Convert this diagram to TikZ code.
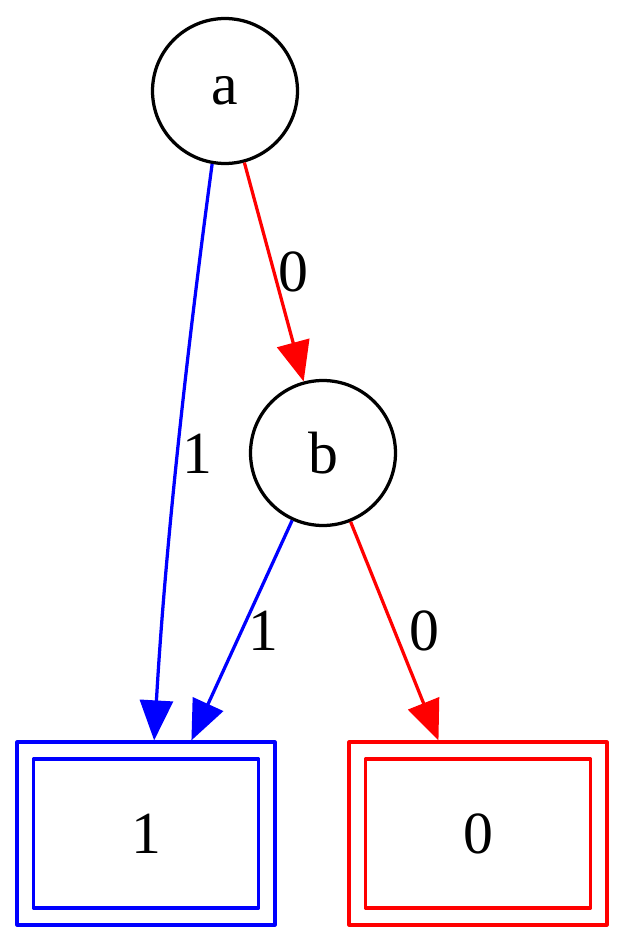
\documentclass[tikz,border=0pt]{standalone}
\usepackage{fontspec}
\setmainfont{Liberation Serif}
\usetikzlibrary{arrows.meta}
\begin{document}
\begin{tikzpicture}[x=0.02cm,y=-0.02cm,line width=0.065cm,line join=round,
		>={Triangle[length=0.8cm,width=0.66cm]},
		font=\fontsize{34}{40}\selectfont,
		vertex/.style={circle,draw,minimum size=2.9cm,inner sep=0pt},
		outerbox/.style={rectangle,draw,minimum width=5.16cm,minimum height=3.66cm},
		innerbox/.style={rectangle,minimum width=4.5cm,minimum height=2.98cm},
		lbl/.style={midway,right,inner sep=0.06cm,text=black}]
			\useasboundingbox (0,0) rectangle (625,942);
			\node[vertex] (a) at (225,91) {a};
			\node[vertex] (b) at (323,453) {b};
			\node[outerbox,draw=blue] (o1) at (146,833.5) {};
			\node[innerbox,draw=blue] (t1) at (146,833.5) {1};
			\node[outerbox,draw=red] (o0) at (478,833.5) {};
			\node[innerbox,draw=red] (t0) at (478,833.5) {0};
			\draw[->,blue] (a.260) .. controls (186,358) and (165,551) .. (o1.85) node[lbl] {1};
			\draw[->,red] (a) -- (b) node[lbl] {0};
			\draw[->,blue] (b) -- (o1.64) node[lbl,xshift=0.04cm] {1};
			\draw[->,red] (b) -- (o0.113) node[lbl,xshift=0.2cm] {0};
		\end{tikzpicture}
\end{document}
